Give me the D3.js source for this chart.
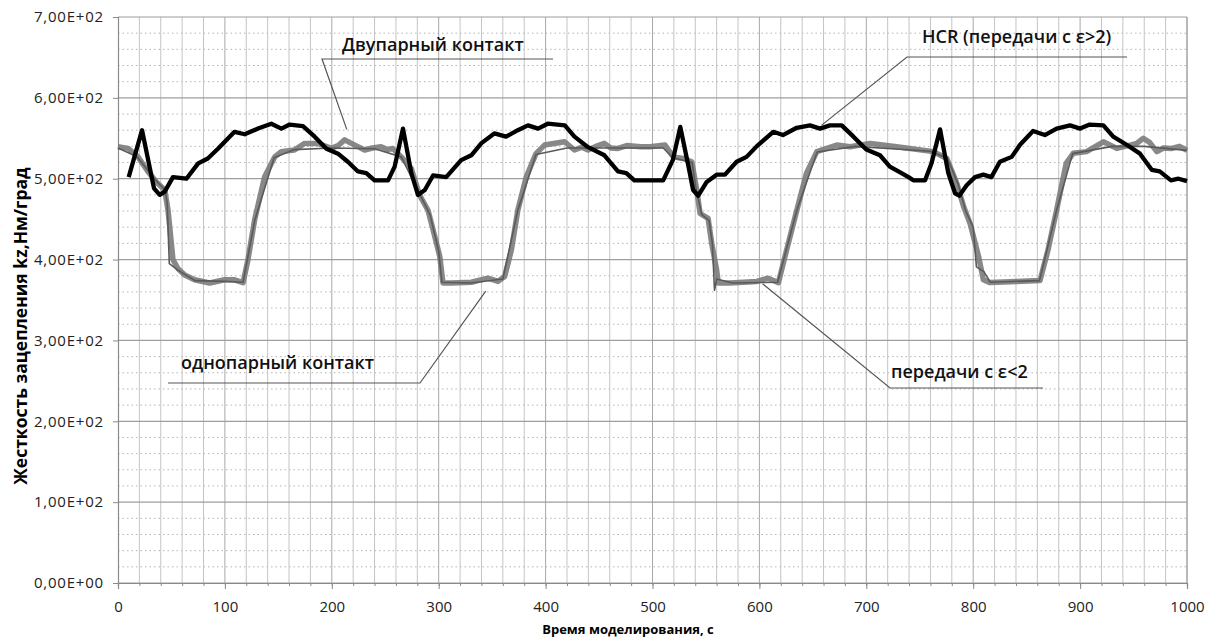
<!DOCTYPE html>
<html>
<head>
<meta charset="utf-8">
<script src="https://cdn.jsdelivr.net/npm/d3@7"></script>
<style>
  body { margin: 0; background: #fff; }
  svg text { font-family: "Open Sans", sans-serif; }
</style>
</head>
<body>
<svg id="chart"></svg>
<script>

// time axis ticks and labels
var xTicks = [0, 100, 200, 300, 400, 500, 600, 700, 800, 900, 1000];
var yTicks = [0, 100, 200, 300, 400, 500, 600, 700];
var yTickLabels = ["0,00E+00", "1,00E+02", "2,00E+02", "3,00E+02", "4,00E+02", "5,00E+02", "6,00E+02", "7,00E+02"];

// HCR (передачи с e>2) - black line
var hcrTime = [10, 22.5, 33.7, 39, 43.7, 51.4, 64, 75, 84, 93.5, 109, 118.5, 131, 143.4, 152.8, 160.6, 173, 184, 195, 205.8,
  215, 224.5, 232.3, 240, 252.6, 258.8, 266.6, 274.4, 280.6, 287, 294.7, 307, 321, 330.5, 340, 352, 363, 374, 383.5, 393,
  402, 418, 427, 439.7, 455, 467.7, 475.5, 483, 489, 497.7, 510, 519, 526, 533.4, 538, 542.8, 550.7, 560, 567.8, 578.7,
  588, 597.4, 613, 622, 634.9, 647.3, 656.7, 666, 677, 688, 700, 712.8, 722, 730, 739.5, 744, 755, 761, 769, 776.7,
  783, 787, 793.9, 801.7, 809.5, 817, 825, 836, 843.8, 856, 867, 878, 890.6, 900, 909, 921.8, 931, 943.5, 956, 967,
  974.5, 985, 992, 1000];
var hcrValues = [502, 560, 488, 480, 484, 502, 500, 519, 525, 537, 558, 555, 562, 568, 562, 567, 565, 552, 537, 531,
  521, 509, 507, 498, 498, 515, 562, 507, 480, 486, 504, 502, 523, 529, 544, 556, 552, 560, 566, 562,
  568, 566, 552, 539, 529, 509, 507, 498, 498, 498, 498, 523, 564, 517, 486, 479, 496, 505, 505, 521,
  527, 540, 558, 554, 563, 566, 562, 566, 566, 552, 536, 529, 515, 509, 502, 498, 498, 519, 561, 507,
  482, 479, 492, 502, 505, 502, 521, 527, 542, 559, 554, 562, 566, 562, 567, 566, 552, 542, 531, 511,
  509, 498, 500, 497];

// передачи с e<2 - thick grey line
var lowTime = [0, 9.4, 18.7, 28, 35.9, 43.7, 46.8, 49.9, 51.4, 56, 62.4, 71.7, 85.7, 99.8, 109, 117, 121.6, 127.8, 137.2, 146.6,
  152.8, 165, 174.6, 187, 199.6, 206, 212, 218.3, 224, 230.7, 238, 246, 252, 257, 265, 274.4, 282, 290, 294.7, 301,
  304, 311.8, 330.5, 346, 355.5, 361.7, 368, 374, 382, 391, 399, 417.8, 427, 434, 439.7, 447, 455, 461, 467.7, 476,
  489, 497.7, 511.7, 519.5, 529, 536.7, 541.4, 544.5, 552, 555.4, 560, 561.6, 572.5, 597.4, 608, 617.8, 625.5, 635, 644, 653.7,
  672.4, 684.9, 703.6, 728.5, 762.8, 775.3, 784.7, 791, 797, 805, 809.5, 815.7, 840.6, 862.5, 870, 878, 887, 893.6, 906, 921.8,
  934.3, 945, 953, 959, 965, 971.8, 978, 985.8, 993, 1000];
var lowValues = [539.6, 537.5, 527, 509, 496, 486, 461, 420, 400, 389, 381, 375, 371, 375, 375, 371.5, 400, 449, 502.5, 527,
  533.5, 535.5, 543.7, 543.7, 537.5, 541, 548, 543.7, 540, 535.5, 538, 539.6, 536, 537.5, 527, 512.7, 480, 461, 437, 404,
  371, 371, 372, 377, 373, 379, 412, 461, 502.5, 531, 541.6, 545.7, 535.5, 539, 535.5, 540, 543.7, 538, 537.5, 541,
  539.6, 539.6, 541.6, 527, 525, 521, 486, 457, 451, 420, 387, 371, 371, 373, 377, 371.5, 412, 461, 506.6, 533.5,
  541.6, 539.6, 543.7, 539.6, 533.5, 525, 494, 465.6, 445, 404, 375, 371.5, 373, 374, 412, 461, 519, 531.5, 533.5, 545.7,
  537.5, 541, 543.7, 550, 545, 533.5, 538, 537.5, 540, 535];

// second grey trace running along the first one
var twinTime = [0, 18, 36, 44, 46, 48, 56, 72, 100, 117, 128, 146, 165, 200, 240, 265, 282, 292, 300, 303,
  330, 360, 374, 391, 420, 470, 510, 519, 537, 541, 546, 553, 556, 558, 560, 575, 617, 635, 654, 690,
  760, 776, 786, 793, 800, 803, 810, 816, 862, 878, 893, 930, 960, 1000];
var twinValues = [538, 527, 497, 486, 470, 395, 387, 374, 373, 372, 449, 526, 536, 538, 537, 527, 482, 455, 410, 372,
  371, 376, 461, 530, 538, 538, 538, 526, 520, 486, 456, 448, 420, 362, 376, 371, 372, 461, 533, 540,
  534, 525, 493, 460, 440, 391, 385, 372, 374, 461, 531, 540, 540, 535];

// callout labels and the point on the curve each leader points to (time, value)
var calloutText = ["Двупарный контакт", "HCR (передачи с ε>2)", "однопарный контакт", "передачи с ε<2"];
var calloutTime = [214, 658, 344, 603];
var calloutValue = [561, 566, 361, 370];

var svgWidth = 1210,
    svgHeight = 638;
var margin = {top: 17, right: 23, bottom: 55, left: 118},
    width = svgWidth - margin.left - margin.right,
    height = svgHeight - margin.top - margin.bottom;

var svg = d3.select("#chart")
  .attr("width", svgWidth)
  .attr("height", svgHeight);

var xScale = d3.scaleLinear()
  .domain([0, 1000])
  .range([margin.left, margin.left + width]);

var yScale = d3.scaleLinear()
  .domain([0, 700])
  .range([margin.top + height, margin.top]);

// grid: minor dotted horizontals, verticals every 20 s, major horizontals
var grid = svg.append("g");

grid.selectAll(".hminor")
  .data(d3.range(20, 700, 20).filter(function(d) { return d % 100 != 0; }))
  .enter()
  .append("line")
  .attr("x1", margin.left)
  .attr("x2", margin.left + width)
  .attr("y1", function(d) { return yScale(d); })
  .attr("y2", function(d) { return yScale(d); })
  .attr("stroke", "#b5b5b5")
  .attr("stroke-dasharray", "1.5,3")
  .attr("stroke-width", 1);

grid.selectAll(".vline")
  .data(d3.range(20, 1001, 20))
  .enter()
  .append("line")
  .attr("x1", function(d) { return xScale(d); })
  .attr("x2", function(d) { return xScale(d); })
  .attr("y1", margin.top)
  .attr("y2", margin.top + height)
  .attr("stroke", function(d) { return d % 100 == 0 ? "#a8a8a8" : "#c4c4c4"; })
  .attr("stroke-width", 1);

grid.selectAll(".hmajor")
  .data(yTicks)
  .enter()
  .append("line")
  .attr("x1", margin.left)
  .attr("x2", margin.left + width)
  .attr("y1", function(d) { return yScale(d); })
  .attr("y2", function(d) { return yScale(d); })
  .attr("stroke", "#9e9e9e")
  .attr("stroke-width", 1.2);

// axes
var yAxis = svg.append("g")
  .attr("transform", "translate(" + margin.left + ",0)")
  .call(d3.axisLeft(yScale)
    .tickValues(yTicks)
    .tickFormat(function(d, i) { return yTickLabels[i]; })
    .tickSize(5)
    .tickPadding(9));

var xMinor = svg.append("g")
  .attr("transform", "translate(0," + (margin.top + height) + ")")
  .call(d3.axisBottom(xScale)
    .tickValues(d3.range(0, 1001, 20))
    .tickFormat("")
    .tickSize(3));

var xAxis = svg.append("g")
  .attr("transform", "translate(0," + (margin.top + height) + ")")
  .call(d3.axisBottom(xScale)
    .tickValues(xTicks)
    .tickFormat(d3.format("d"))
    .tickSize(6)
    .tickPadding(12));

svg.selectAll(".domain").attr("stroke", "#8a8a8a").attr("stroke-width", 1.2);
svg.selectAll(".tick line").attr("stroke", "#8a8a8a");
svg.selectAll(".tick text")
  .attr("fill", "#222")
  .style("font-size", "15px");

// y labels are a bit wider in the original
yAxis.selectAll("text").style("letter-spacing", "0.8px");

// right border of the plot area
svg.append("line")
  .attr("x1", xScale(1000)).attr("x2", xScale(1000))
  .attr("y1", margin.top).attr("y2", margin.top + height)
  .attr("stroke", "#9e9e9e");

// lines
var line = d3.line()
  .x(function(d) { return xScale(d[0]); })
  .y(function(d) { return yScale(d[1]); });

svg.append("path")
  .datum(d3.zip(lowTime, lowValues))
  .attr("d", line)
  .attr("fill", "none")
  .attr("stroke", "#7b7b7b")
  .attr("stroke-width", 5.5)
  .attr("stroke-linejoin", "round")
  .attr("opacity", 0.9);

svg.append("path")
  .datum(d3.zip(twinTime, twinValues))
  .attr("d", line)
  .attr("fill", "none")
  .attr("stroke", "#5a5a5a")
  .attr("stroke-width", 1.6)
  .attr("stroke-linejoin", "round");

svg.append("path")
  .datum(d3.zip(hcrTime, hcrValues))
  .attr("d", line)
  .attr("fill", "none")
  .attr("stroke", "#000")
  .attr("stroke-width", 4.3)
  .attr("stroke-linejoin", "round");

// callouts: label, shelf line (joint end, far end, y) and leader to the curve
var calloutBox = [
  {tx: 342, ty: 51, shelf: [322, 553, 59]},
  {tx: 922, ty: 43, shelf: [907, 1127, 57]},
  {tx: 181, ty: 369, shelf: [420, 168, 383]},
  {tx: 891, ty: 378, shelf: [890, 1043, 388]}
];

calloutText.forEach(function(t, i) {
  var b = calloutBox[i];
  svg.append("text")
    .attr("x", b.tx)
    .attr("y", b.ty)
    .attr("fill", "#111")
    .style("font-size", "18px")
    .style("font-weight", 600)
    .text(t);
  svg.append("polyline")
    .attr("points", [[xScale(calloutTime[i]), yScale(calloutValue[i])], [b.shelf[0], b.shelf[2]], [b.shelf[1], b.shelf[2]]].join(" "))
    .attr("fill", "none")
    .attr("stroke", "#555")
    .attr("stroke-width", 1.2);
});

// axis titles
svg.append("text")
  .attr("x", 628)
  .attr("y", 634)
  .attr("text-anchor", "middle")
  .style("font-size", "13px")
  .style("font-weight", 700)
  .text("Время моделирования, с");

svg.append("text")
  .attr("transform", "translate(27,326) rotate(-90)")
  .attr("text-anchor", "middle")
  .style("font-size", "17.5px")
  .style("font-weight", 700)
  .text("Жесткость зацепления kz,Нм/град");

</script>
</body>
</html>
